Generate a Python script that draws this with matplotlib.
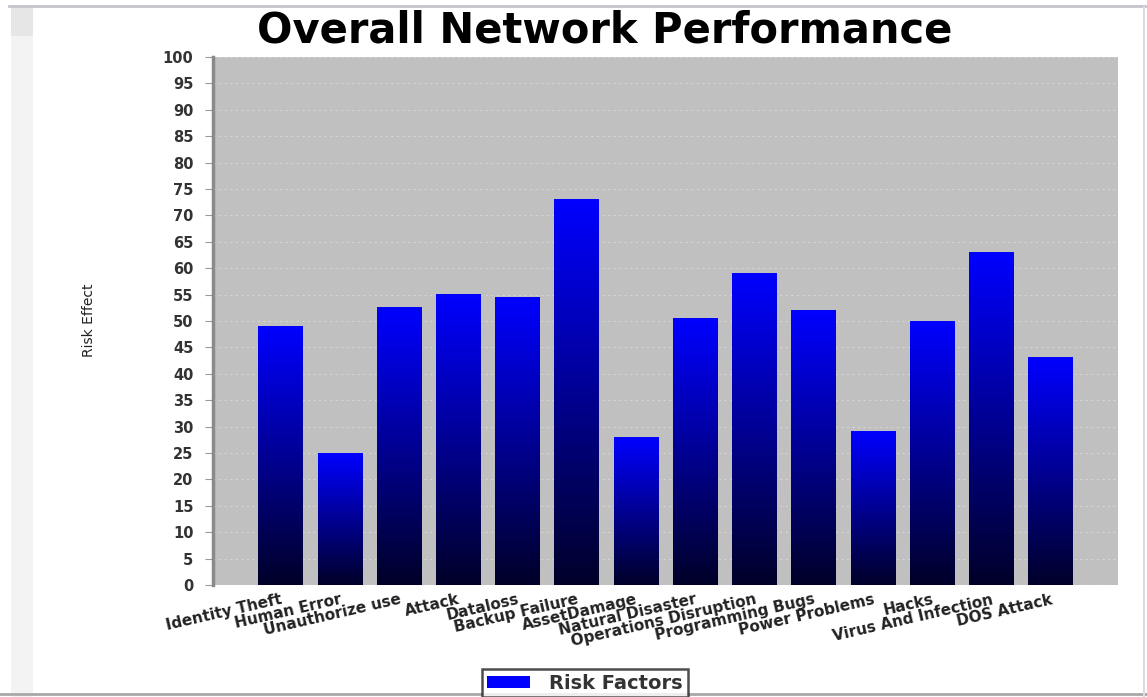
"""Overall Network Performance bar chart (risk factors)."""

import matplotlib

matplotlib.use("Agg")
import matplotlib.pyplot as plt
import numpy as np
from matplotlib.lines import Line2D
from matplotlib.patches import Patch, Rectangle

categories = [
    "Identity Theft",
    "Human Error",
    "Unauthorize use",
    "Attack",
    "Dataloss",
    "Backup Failure",
    "AssetDamage",
    "Natural Disaster",
    "Operations Disruption",
    "Programming Bugs",
    "Power Problems",
    "Hacks",
    "Virus And Infection",
    "DOS Attack",
]
risk_effect = [49, 25, 52.5, 55, 54.5, 73, 28, 50.5, 59, 52, 29, 50, 63, 43]
y_ticks = list(range(0, 101, 5))

TOP_BLUE = (0.0, 0.0, 1.0)
BOTTOM_BLUE = (0.0, 0.0, 0.16)

fig = plt.figure(figsize=(11.47, 6.97), dpi=100)
fig.patch.set_facecolor("white")

# screenshot frame bits around the chart
fig.add_artist(Rectangle((0.010, 0.0), 0.019, 0.99, transform=fig.transFigure,
                         facecolor="#f3f3f3", edgecolor="none", zorder=0))
fig.add_artist(Rectangle((0.010, 0.948), 0.019, 0.042, transform=fig.transFigure,
                         facecolor="#e6e6e6", edgecolor="none", zorder=0))
fig.add_artist(Line2D([0.008, 1.0], [0.992, 0.992], transform=fig.transFigure,
                      color="#c4c4cc", lw=2))
fig.add_artist(Line2D([0.0, 1.0], [0.004, 0.004], transform=fig.transFigure,
                      color="#a8a8a8", lw=2))
fig.add_artist(Line2D([0.997, 0.997], [0.0, 0.99], transform=fig.transFigure,
                      color="#dcdcdc", lw=1.5))

ax = fig.add_axes([0.1857, 0.1607, 0.789, 0.7575])
ax.set_facecolor("#c0c0c0")

x = np.arange(len(categories))
bars = ax.bar(x, risk_effect, width=0.75, color="none", edgecolor="none", zorder=3)

# vertical blue-to-navy gradient inside every bar
grad = np.linspace(0, 1, 256).reshape(-1, 1)
cmap = matplotlib.colors.LinearSegmentedColormap.from_list("bar", [BOTTOM_BLUE, TOP_BLUE])
for bar in bars:
    x0 = bar.get_x()
    ax.imshow(grad, cmap=cmap, origin="lower", aspect="auto", zorder=3,
              extent=[x0, x0 + bar.get_width(), 0, bar.get_height()])

ax.set_xlim(-1.14, len(categories) - 1 + 1.14)
ax.set_ylim(0, 100)
ax.set_yticks(y_ticks)
ax.yaxis.grid(True, color="#d4d4d4", linestyle=(0, (2, 3)), linewidth=0.8, zorder=1)
ax.set_axisbelow(True)

for side in ("top", "right", "bottom"):
    ax.spines[side].set_visible(False)
ax.spines["left"].set_color("#8a8a8a")
ax.spines["left"].set_linewidth(2.5)

ax.tick_params(axis="y", length=6, color="#999999", pad=8, labelsize=10.5,
               labelcolor="#333333")
for lbl in ax.get_yticklabels():
    lbl.set_fontweight("bold")

ax.set_xticks(x)
ax.set_xticklabels(categories, rotation=13, ha="right", rotation_mode="anchor",
                   fontsize=11, fontweight="bold", color="#222222")
ax.tick_params(axis="x", length=0, pad=5)

fig.text(0.078, 0.541, "Risk Effect", rotation=90, ha="center", va="center",
         fontsize=10, color="#222222")

fig.text(0.527, 0.956, "Overall Network Performance", ha="center", va="center",
         fontsize=30, fontweight="heavy", color="black")

leg = fig.legend(handles=[Patch(facecolor="#0000ff", edgecolor="none", label="Risk Factors")],
                 loc="center", bbox_to_anchor=(0.51, 0.02), frameon=True, fancybox=False,
                 prop={"size": 14, "weight": "bold"}, handlelength=2.2, handleheight=0.6,
                 handletextpad=1.0, borderpad=0.25, borderaxespad=0)
leg.get_frame().set_edgecolor("#222222")
leg.get_frame().set_linewidth(1.8)
for txt in leg.get_texts():
    txt.set_color("#333333")

fig.savefig("out.png", dpi=100, facecolor="white")
